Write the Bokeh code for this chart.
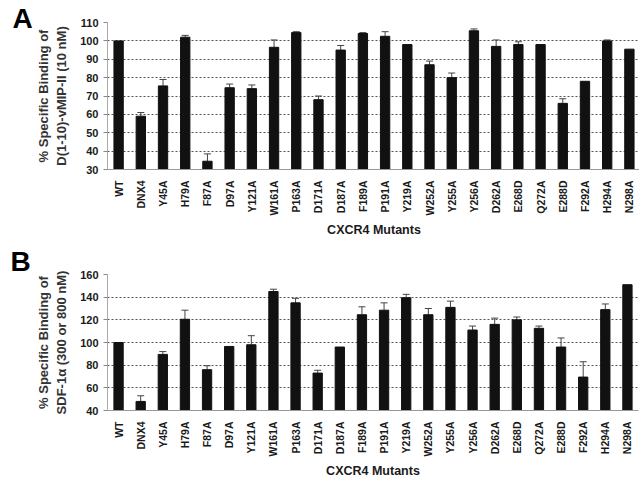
from bokeh.plotting import figure
from bokeh.models import ColumnDataSource, Whisker, TeeHead, FactorRange, Range1d, FixedTicker, Title
from bokeh.layouts import column
from bokeh.embed import file_html
from bokeh.resources import INLINE

mutants = ["WT", "DNX4", "Y45A", "H79A", "F87A", "D97A", "Y121A", "W161A", "P163A", "D171A",
           "D187A", "F189A", "P191A", "Y219A", "W252A", "Y255A", "Y256A", "D262A", "E268D",
           "Q272A", "E288D", "F292A", "H294A", "N298A"]

vmip = [100, 59, 75.5, 102, 34.5, 74.5, 74, 96.5, 104.5, 68, 95, 104, 102.5, 98, 87, 80,
        105.5, 97, 98, 98, 66, 78, 100, 95.5]
vmip_sem = [0, 2, 3.5, 1, 4, 2, 2, 4, 0.5, 2, 2.5, 0.5, 2.5, 0, 2, 2.5, 1, 3.5, 1.5, 0,
            2.5, 0, 0.5, 0]

sdf = [100, 48, 89.5, 120.5, 76, 96.5, 98, 145, 135, 73, 96, 124.5, 128.5, 139.5, 124.5,
       131, 111, 116, 120, 112.5, 96, 69.5, 129, 151]
sdf_sem = [0, 5, 2.5, 8, 3.5, 0, 8, 2, 4, 2.5, 0, 7, 6.5, 3, 5.5, 5.5, 3.5, 5.5, 2.5, 2,
           8, 13.5, 5, 0]

yticks_a = [30, 40, 50, 60, 70, 80, 90, 100, 110]
yticks_b = [40, 60, 80, 100, 120, 140, 160]

FONT = "Liberation Sans"
TXT = "#1a1a1a"


def make_panel(values, sems, yticks, ylabel, letter, left_border, top_border, frame_w,
               frame_h, letter_dx, letter_standoff):
    p = figure(x_range=FactorRange(*mutants, range_padding=0),
               y_range=Range1d(yticks[0], yticks[-1]),
               output_backend="svg", toolbar_location=None,
               frame_width=frame_w, frame_height=frame_h,
               min_border_left=left_border, min_border_right=1,
               min_border_top=top_border, min_border_bottom=0)
    p.outline_line_color = None
    src = ColumnDataSource(dict(x=mutants, top=values,
                                bottom=[yticks[0]] * len(values)))
    p.vbar(x="x", top="top", bottom="bottom", width=0.42, source=src,
           fill_color="#111111", line_color="#111111")
    wx = [m for m, s in zip(mutants, sems) if s > 0]
    wl = [v for v, s in zip(values, sems) if s > 0]
    wu = [v + s for v, s in zip(values, sems) if s > 0]
    wsrc = ColumnDataSource(dict(x=wx, lower=wl, upper=wu))
    w = Whisker(base="x", lower="lower", upper="upper", source=wsrc,
                line_color="#444444", line_width=1,
                upper_head=TeeHead(size=7, line_color="#444444", line_width=1),
                lower_head=None)
    p.add_layout(w)

    p.yaxis.ticker = FixedTicker(ticks=yticks)
    p.ygrid.ticker = FixedTicker(ticks=yticks[1:])
    p.ygrid.grid_line_color = "#555555"
    p.ygrid.grid_line_dash = "2 2"
    p.ygrid.grid_line_width = 1
    p.xgrid.grid_line_color = None

    p.yaxis.axis_line_color = "#aaaaaa"
    p.yaxis.major_tick_line_color = "#888888"
    p.yaxis.major_tick_out = 4
    p.yaxis.major_tick_in = 0
    p.yaxis.minor_tick_line_color = None
    p.yaxis.major_label_text_font = FONT
    p.yaxis.major_label_text_font_style = "bold"
    p.yaxis.major_label_text_font_size = "11px"
    p.yaxis.major_label_text_color = TXT
    p.yaxis.axis_label = ylabel
    p.yaxis.axis_label_text_font = FONT
    p.yaxis.axis_label_text_font_style = "bold"
    p.yaxis.axis_label_text_font_size = "13px"
    p.yaxis.axis_label_text_color = "#333333"
    p.yaxis.axis_label_standoff = 8

    p.xaxis.axis_line_color = "#999999"
    p.xaxis.major_tick_line_color = None
    p.xaxis.major_label_orientation = 1.5708
    p.xaxis.major_label_text_font = FONT
    p.xaxis.major_label_text_font_style = "bold"
    p.xaxis.major_label_text_font_size = "10.5px"
    p.xaxis.major_label_text_color = TXT
    p.xaxis.major_label_standoff = 5
    p.xaxis.axis_label = "CXCR4 Mutants"
    p.xaxis.axis_label_text_font = FONT
    p.xaxis.axis_label_text_font_style = "bold"
    p.xaxis.axis_label_text_font_size = "12.5px"
    p.xaxis.axis_label_text_color = TXT
    p.xaxis.axis_label_standoff = 4

    t = Title(text=letter, text_font=FONT, text_font_style="bold", text_font_size="28px",
              text_color="#000000", align="left", offset=letter_dx, standoff=letter_standoff)
    p.add_layout(t, "above")
    return p


pa = make_panel(vmip, vmip_sem, yticks_a, "% Specific Binding of\nD(1-10)-vMIP-II (10 nM)",
                "A", 105, 22, 533, 147, -95, -23)
pb = make_panel(sdf, sdf_sem, yticks_b, "% Specific Binding of\nSDF-1\u03b1 (300 or 800 nM)",
                "B", 107, 35, 531, 136, -97, -4)

layout = column(pa, pb, spacing=0)
open("out.html", "w").write(file_html(layout, INLINE))
